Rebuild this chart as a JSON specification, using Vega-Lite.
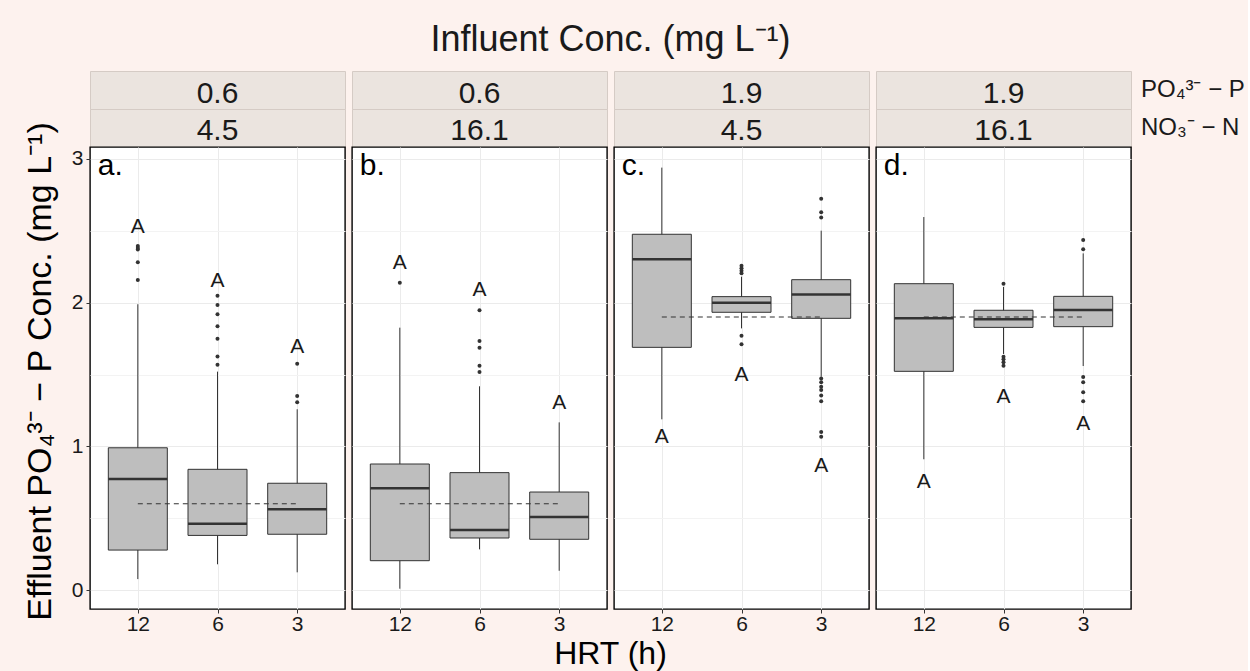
{
  "$schema": "https://vega.github.io/schema/vega-lite/v6.json",
  "background": "#FDF2EE",
  "padding": {"left": 22, "top": 21, "right": 2, "bottom": 2},
  "bounds": "flush",
  "columns": 4,
  "spacing": {"row": 0, "column": 7},
  "datasets": {
    "strips": [
      {"panel": "a", "po4": "0.6", "no3": "4.5"},
      {"panel": "b", "po4": "0.6", "no3": "16.1"},
      {"panel": "c", "po4": "1.9", "no3": "4.5"},
      {"panel": "d", "po4": "1.9", "no3": "16.1"}
    ],
    "boxes": [
      {"panel": "a", "hrt": "12", "lo": 0.076, "q1": 0.278, "med": 0.772, "q3": 0.990, "hi": 1.989, "grp": "A", "grpY": 2.527},
      {"panel": "a", "hrt": "6", "lo": 0.179, "q1": 0.380, "med": 0.462, "q3": 0.840, "hi": 1.520, "grp": "A", "grpY": 2.153},
      {"panel": "a", "hrt": "3", "lo": 0.123, "q1": 0.388, "med": 0.562, "q3": 0.743, "hi": 1.258, "grp": "A", "grpY": 1.694},
      {"panel": "b", "hrt": "12", "lo": 0.009, "q1": 0.204, "med": 0.708, "q3": 0.877, "hi": 1.826, "grp": "A", "grpY": 2.274},
      {"panel": "b", "hrt": "6", "lo": 0.283, "q1": 0.362, "med": 0.418, "q3": 0.817, "hi": 1.418, "grp": "A", "grpY": 2.088},
      {"panel": "b", "hrt": "3", "lo": 0.134, "q1": 0.353, "med": 0.508, "q3": 0.682, "hi": 1.167, "grp": "A", "grpY": 1.299},
      {"panel": "c", "hrt": "12", "lo": 1.188, "q1": 1.689, "med": 2.302, "q3": 2.476, "hi": 2.940, "grp": "A", "grpY": 1.063},
      {"panel": "c", "hrt": "6", "lo": 1.821, "q1": 1.933, "med": 2.000, "q3": 2.042, "hi": 2.181, "grp": "A", "grpY": 1.496},
      {"panel": "c", "hrt": "3", "lo": 1.485, "q1": 1.891, "med": 2.056, "q3": 2.160, "hi": 2.501, "grp": "A", "grpY": 0.863},
      {"panel": "d", "hrt": "12", "lo": 0.910, "q1": 1.522, "med": 1.891, "q3": 2.132, "hi": 2.596, "grp": "A", "grpY": 0.754},
      {"panel": "d", "hrt": "6", "lo": 1.643, "q1": 1.828, "med": 1.884, "q3": 1.947, "hi": 2.110, "grp": "A", "grpY": 1.346},
      {"panel": "d", "hrt": "3", "lo": 1.559, "q1": 1.833, "med": 1.949, "q3": 2.044, "hi": 2.343, "grp": "A", "grpY": 1.155}
    ],
    "outliers": [
      {"panel": "a", "hrt": "12", "value": 2.395},
      {"panel": "a", "hrt": "12", "value": 2.380},
      {"panel": "a", "hrt": "12", "value": 2.370},
      {"panel": "a", "hrt": "12", "value": 2.281},
      {"panel": "a", "hrt": "12", "value": 2.158},
      {"panel": "a", "hrt": "6", "value": 2.048},
      {"panel": "a", "hrt": "6", "value": 1.984},
      {"panel": "a", "hrt": "6", "value": 1.919},
      {"panel": "a", "hrt": "6", "value": 1.835},
      {"panel": "a", "hrt": "6", "value": 1.749},
      {"panel": "a", "hrt": "6", "value": 1.626},
      {"panel": "a", "hrt": "6", "value": 1.568},
      {"panel": "a", "hrt": "3", "value": 1.575},
      {"panel": "a", "hrt": "3", "value": 1.350},
      {"panel": "a", "hrt": "3", "value": 1.306},
      {"panel": "b", "hrt": "12", "value": 2.139},
      {"panel": "b", "hrt": "6", "value": 1.947},
      {"panel": "b", "hrt": "6", "value": 1.733},
      {"panel": "b", "hrt": "6", "value": 1.687},
      {"panel": "b", "hrt": "6", "value": 1.561},
      {"panel": "b", "hrt": "6", "value": 1.517},
      {"panel": "c", "hrt": "6", "value": 2.257},
      {"panel": "c", "hrt": "6", "value": 2.239},
      {"panel": "c", "hrt": "6", "value": 2.222},
      {"panel": "c", "hrt": "6", "value": 2.204},
      {"panel": "c", "hrt": "6", "value": 1.770},
      {"panel": "c", "hrt": "6", "value": 1.710},
      {"panel": "c", "hrt": "3", "value": 2.724},
      {"panel": "c", "hrt": "3", "value": 2.629},
      {"panel": "c", "hrt": "3", "value": 2.592},
      {"panel": "c", "hrt": "3", "value": 1.473},
      {"panel": "c", "hrt": "3", "value": 1.446},
      {"panel": "c", "hrt": "3", "value": 1.415},
      {"panel": "c", "hrt": "3", "value": 1.392},
      {"panel": "c", "hrt": "3", "value": 1.353},
      {"panel": "c", "hrt": "3", "value": 1.313},
      {"panel": "c", "hrt": "3", "value": 1.100},
      {"panel": "c", "hrt": "3", "value": 1.067},
      {"panel": "d", "hrt": "6", "value": 2.132},
      {"panel": "d", "hrt": "6", "value": 1.624},
      {"panel": "d", "hrt": "6", "value": 1.606},
      {"panel": "d", "hrt": "6", "value": 1.585},
      {"panel": "d", "hrt": "6", "value": 1.561},
      {"panel": "d", "hrt": "3", "value": 2.436},
      {"panel": "d", "hrt": "3", "value": 2.371},
      {"panel": "d", "hrt": "3", "value": 1.483},
      {"panel": "d", "hrt": "3", "value": 1.446},
      {"panel": "d", "hrt": "3", "value": 1.376},
      {"panel": "d", "hrt": "3", "value": 1.313}
    ],
    "influent": [
      {"panel": "a", "letter": "a.", "conc": 0.6, "from": "12", "to": "3"},
      {"panel": "b", "letter": "b.", "conc": 0.6, "from": "12", "to": "3"},
      {"panel": "c", "letter": "c.", "conc": 1.9, "from": "12", "to": "3"},
      {"panel": "d", "letter": "d.", "conc": 1.9, "from": "12", "to": "3"}
    ]
  },
  "concat": [
    {
      "width": 255, "height": 38,
      "view": {"fill": "#EBE4DF", "stroke": "#D5CBC5"},
      "data": {"name": "strips"},
      "transform": [{"filter": "datum.panel === 'a'"}],
      "mark": {"type": "text", "fontSize": 30, "baseline": "alphabetic", "dy": 13, "color": "#1a1a1a"},
      "encoding": {"text": {"field": "po4"}}
    },
    {
      "width": 255, "height": 38,
      "view": {"fill": "#EBE4DF", "stroke": "#D5CBC5"},
      "title": {"text": "Influent Conc. (mg L⁻¹)", "fontSize": 36, "anchor": "middle", "frame": "group", "baseline": "alphabetic", "offset": -16, "dx": 131, "color": "#1a1a1a"},
      "data": {"name": "strips"},
      "transform": [{"filter": "datum.panel === 'b'"}],
      "mark": {"type": "text", "fontSize": 30, "baseline": "alphabetic", "dy": 13, "color": "#1a1a1a"},
      "encoding": {"text": {"field": "po4"}}
    },
    {
      "width": 255, "height": 38,
      "view": {"fill": "#EBE4DF", "stroke": "#D5CBC5"},
      "data": {"name": "strips"},
      "transform": [{"filter": "datum.panel === 'c'"}],
      "mark": {"type": "text", "fontSize": 30, "baseline": "alphabetic", "dy": 13, "color": "#1a1a1a"},
      "encoding": {"text": {"field": "po4"}}
    },
    {
      "width": 255, "height": 38,
      "view": {"fill": "#EBE4DF", "stroke": "#D5CBC5"},
      "title": {"text": "PO₄³⁻ − P", "orient": "right", "angle": 0, "anchor": "middle", "align": "right", "baseline": "middle", "offset": 10, "fontSize": 24, "color": "#1a1a1a"},
      "data": {"name": "strips"},
      "transform": [{"filter": "datum.panel === 'd'"}],
      "mark": {"type": "text", "fontSize": 30, "baseline": "alphabetic", "dy": 13, "color": "#1a1a1a"},
      "encoding": {"text": {"field": "po4"}}
    },
    {
      "width": 255, "height": 38,
      "view": {"fill": "#EBE4DF", "stroke": "#D5CBC5"},
      "data": {"name": "strips"},
      "transform": [{"filter": "datum.panel === 'a'"}],
      "mark": {"type": "text", "fontSize": 30, "baseline": "alphabetic", "dy": 12, "color": "#1a1a1a"},
      "encoding": {"text": {"field": "no3"}}
    },
    {
      "width": 255, "height": 38,
      "view": {"fill": "#EBE4DF", "stroke": "#D5CBC5"},
      "data": {"name": "strips"},
      "transform": [{"filter": "datum.panel === 'b'"}],
      "mark": {"type": "text", "fontSize": 30, "baseline": "alphabetic", "dy": 12, "color": "#1a1a1a"},
      "encoding": {"text": {"field": "no3"}}
    },
    {
      "width": 255, "height": 38,
      "view": {"fill": "#EBE4DF", "stroke": "#D5CBC5"},
      "data": {"name": "strips"},
      "transform": [{"filter": "datum.panel === 'c'"}],
      "mark": {"type": "text", "fontSize": 30, "baseline": "alphabetic", "dy": 12, "color": "#1a1a1a"},
      "encoding": {"text": {"field": "no3"}}
    },
    {
      "width": 255, "height": 38,
      "view": {"fill": "#EBE4DF", "stroke": "#D5CBC5"},
      "title": {"text": "NO₃⁻ − N", "orient": "right", "angle": 0, "anchor": "middle", "align": "right", "baseline": "middle", "offset": 10, "fontSize": 24, "color": "#1a1a1a"},
      "data": {"name": "strips"},
      "transform": [{"filter": "datum.panel === 'd'"}],
      "mark": {"type": "text", "fontSize": 30, "baseline": "alphabetic", "dy": 12, "color": "#1a1a1a"},
      "encoding": {"text": {"field": "no3"}}
    },
    {
      "width": 255, "height": 462,
      "view": {"fill": "white", "stroke": "black", "strokeWidth": 1.4},
      "layer": [
        {
          "data": {"name": "boxes"},
          "transform": [{"filter": "datum.panel === 'a'"}],
          "mark": {"type": "rule", "color": "#333333", "strokeWidth": 1},
          "encoding": {
            "x": {"field": "hrt", "type": "ordinal", "scale": {"type": "point", "domain": ["12", "6", "3"], "padding": 0.6},
                  "axis": {"title": null, "labelAngle": 0, "labelFontSize": 21, "labelPadding": 0, "grid": true}},
            "y": {"field": "lo", "type": "quantitative", "scale": {"domain": [-0.1322, 3.0835], "nice": false, "zero": false},
                  "axis": {"title": "Effluent PO₄³⁻ − P Conc. (mg L⁻¹)", "titleFontSize": 34, "titleX": -40, "titleY": 224, "titleBaseline": "alphabetic", "titleAlign": "center", "titleAngle": -90,
                           "values": [0, 0.5, 1, 1.5, 2, 2.5, 3], "labelExpr": "datum.value % 1 === 0 ? format(datum.value, 'd') : ''",
                           "labelFontSize": 21, "labelPadding": 3,
                           "tickOpacity": {"condition": {"test": "datum.value % 1 !== 0", "value": 0}, "value": 1},
                           "gridColor": {"condition": {"test": "datum.value % 1 !== 0", "value": "#F3F3F3"}, "value": "#EBEBEB"}}},
            "y2": {"field": "hi"}
          }
        },
        {
          "data": {"name": "boxes"},
          "transform": [{"filter": "datum.panel === 'a'"}],
          "mark": {"type": "bar", "size": 59, "fill": "#BEBEBE", "stroke": "#333333", "strokeWidth": 1},
          "encoding": {"x": {"field": "hrt", "type": "ordinal"}, "y": {"field": "q1", "type": "quantitative"}, "y2": {"field": "q3"}}
        },
        {
          "data": {"name": "boxes"},
          "transform": [{"filter": "datum.panel === 'a'"}],
          "mark": {"type": "tick", "orient": "horizontal", "size": 59, "thickness": 2.5, "color": "#333333", "opacity": 1},
          "encoding": {"x": {"field": "hrt", "type": "ordinal"}, "y": {"field": "med", "type": "quantitative"}}
        },
        {
          "data": {"name": "outliers"},
          "transform": [{"filter": "datum.panel === 'a'"}],
          "mark": {"type": "circle", "size": 16, "color": "#333333", "opacity": 1},
          "encoding": {"x": {"field": "hrt", "type": "ordinal"}, "y": {"field": "value", "type": "quantitative"}}
        },
        {
          "data": {"name": "influent"},
          "transform": [{"filter": "datum.panel === 'a'"}],
          "mark": {"type": "rule", "color": "#333333", "strokeWidth": 1.1, "strokeDash": [5, 4]},
          "encoding": {"x": {"field": "from", "type": "ordinal"}, "x2": {"field": "to"}, "y": {"field": "conc", "type": "quantitative"}}
        },
        {
          "data": {"name": "boxes"},
          "transform": [{"filter": "datum.panel === 'a'"}],
          "mark": {"type": "text", "fontSize": 21, "color": "#1a1a1a", "baseline": "middle"},
          "encoding": {"x": {"field": "hrt", "type": "ordinal"}, "y": {"field": "grpY", "type": "quantitative"}, "text": {"field": "grp"}}
        },
        {
          "data": {"name": "influent"},
          "transform": [{"filter": "datum.panel === 'a'"}],
          "mark": {"type": "text", "fontSize": 30, "color": "black", "align": "left", "baseline": "alphabetic", "dx": -40, "dy": 28},
          "encoding": {"x": {"datum": "12", "type": "ordinal"}, "y": {"datum": 3.0835, "type": "quantitative"}, "text": {"field": "letter"}}
        }
      ]
    },
    {
      "width": 255, "height": 462,
      "view": {"fill": "white", "stroke": "black", "strokeWidth": 1.4},
      "layer": [
        {
          "data": {"name": "boxes"},
          "transform": [{"filter": "datum.panel === 'b'"}],
          "mark": {"type": "rule", "color": "#333333", "strokeWidth": 1},
          "encoding": {
            "x": {"field": "hrt", "type": "ordinal", "scale": {"type": "point", "domain": ["12", "6", "3"], "padding": 0.6},
                  "axis": {"title": "HRT (h)", "titleFontSize": 32, "titleX": 258, "titleY": 54, "titleBaseline": "alphabetic", "titleAlign": "center",
                           "labelAngle": 0, "labelFontSize": 21, "labelPadding": 0, "grid": true}},
            "y": {"field": "lo", "type": "quantitative", "scale": {"domain": [-0.1322, 3.0835], "nice": false, "zero": false},
                  "axis": {"title": null, "labels": false, "ticks": false, "values": [0, 0.5, 1, 1.5, 2, 2.5, 3],
                           "gridColor": {"condition": {"test": "datum.value % 1 !== 0", "value": "#F3F3F3"}, "value": "#EBEBEB"}}},
            "y2": {"field": "hi"}
          }
        },
        {
          "data": {"name": "boxes"},
          "transform": [{"filter": "datum.panel === 'b'"}],
          "mark": {"type": "bar", "size": 59, "fill": "#BEBEBE", "stroke": "#333333", "strokeWidth": 1},
          "encoding": {"x": {"field": "hrt", "type": "ordinal"}, "y": {"field": "q1", "type": "quantitative"}, "y2": {"field": "q3"}}
        },
        {
          "data": {"name": "boxes"},
          "transform": [{"filter": "datum.panel === 'b'"}],
          "mark": {"type": "tick", "orient": "horizontal", "size": 59, "thickness": 2.5, "color": "#333333", "opacity": 1},
          "encoding": {"x": {"field": "hrt", "type": "ordinal"}, "y": {"field": "med", "type": "quantitative"}}
        },
        {
          "data": {"name": "outliers"},
          "transform": [{"filter": "datum.panel === 'b'"}],
          "mark": {"type": "circle", "size": 16, "color": "#333333", "opacity": 1},
          "encoding": {"x": {"field": "hrt", "type": "ordinal"}, "y": {"field": "value", "type": "quantitative"}}
        },
        {
          "data": {"name": "influent"},
          "transform": [{"filter": "datum.panel === 'b'"}],
          "mark": {"type": "rule", "color": "#333333", "strokeWidth": 1.1, "strokeDash": [5, 4]},
          "encoding": {"x": {"field": "from", "type": "ordinal"}, "x2": {"field": "to"}, "y": {"field": "conc", "type": "quantitative"}}
        },
        {
          "data": {"name": "boxes"},
          "transform": [{"filter": "datum.panel === 'b'"}],
          "mark": {"type": "text", "fontSize": 21, "color": "#1a1a1a", "baseline": "middle"},
          "encoding": {"x": {"field": "hrt", "type": "ordinal"}, "y": {"field": "grpY", "type": "quantitative"}, "text": {"field": "grp"}}
        },
        {
          "data": {"name": "influent"},
          "transform": [{"filter": "datum.panel === 'b'"}],
          "mark": {"type": "text", "fontSize": 30, "color": "black", "align": "left", "baseline": "alphabetic", "dx": -40, "dy": 28},
          "encoding": {"x": {"datum": "12", "type": "ordinal"}, "y": {"datum": 3.0835, "type": "quantitative"}, "text": {"field": "letter"}}
        }
      ]
    },
    {
      "width": 255, "height": 462,
      "view": {"fill": "white", "stroke": "black", "strokeWidth": 1.4},
      "layer": [
        {
          "data": {"name": "boxes"},
          "transform": [{"filter": "datum.panel === 'c'"}],
          "mark": {"type": "rule", "color": "#333333", "strokeWidth": 1},
          "encoding": {
            "x": {"field": "hrt", "type": "ordinal", "scale": {"type": "point", "domain": ["12", "6", "3"], "padding": 0.6},
                  "axis": {"title": null, "labelAngle": 0, "labelFontSize": 21, "labelPadding": 0, "grid": true}},
            "y": {"field": "lo", "type": "quantitative", "scale": {"domain": [-0.1322, 3.0835], "nice": false, "zero": false},
                  "axis": {"title": null, "labels": false, "ticks": false, "values": [0, 0.5, 1, 1.5, 2, 2.5, 3],
                           "gridColor": {"condition": {"test": "datum.value % 1 !== 0", "value": "#F3F3F3"}, "value": "#EBEBEB"}}},
            "y2": {"field": "hi"}
          }
        },
        {
          "data": {"name": "boxes"},
          "transform": [{"filter": "datum.panel === 'c'"}],
          "mark": {"type": "bar", "size": 59, "fill": "#BEBEBE", "stroke": "#333333", "strokeWidth": 1},
          "encoding": {"x": {"field": "hrt", "type": "ordinal"}, "y": {"field": "q1", "type": "quantitative"}, "y2": {"field": "q3"}}
        },
        {
          "data": {"name": "boxes"},
          "transform": [{"filter": "datum.panel === 'c'"}],
          "mark": {"type": "tick", "orient": "horizontal", "size": 59, "thickness": 2.5, "color": "#333333", "opacity": 1},
          "encoding": {"x": {"field": "hrt", "type": "ordinal"}, "y": {"field": "med", "type": "quantitative"}}
        },
        {
          "data": {"name": "outliers"},
          "transform": [{"filter": "datum.panel === 'c'"}],
          "mark": {"type": "circle", "size": 16, "color": "#333333", "opacity": 1},
          "encoding": {"x": {"field": "hrt", "type": "ordinal"}, "y": {"field": "value", "type": "quantitative"}}
        },
        {
          "data": {"name": "influent"},
          "transform": [{"filter": "datum.panel === 'c'"}],
          "mark": {"type": "rule", "color": "#333333", "strokeWidth": 1.1, "strokeDash": [5, 4]},
          "encoding": {"x": {"field": "from", "type": "ordinal"}, "x2": {"field": "to"}, "y": {"field": "conc", "type": "quantitative"}}
        },
        {
          "data": {"name": "boxes"},
          "transform": [{"filter": "datum.panel === 'c'"}],
          "mark": {"type": "text", "fontSize": 21, "color": "#1a1a1a", "baseline": "middle"},
          "encoding": {"x": {"field": "hrt", "type": "ordinal"}, "y": {"field": "grpY", "type": "quantitative"}, "text": {"field": "grp"}}
        },
        {
          "data": {"name": "influent"},
          "transform": [{"filter": "datum.panel === 'c'"}],
          "mark": {"type": "text", "fontSize": 30, "color": "black", "align": "left", "baseline": "alphabetic", "dx": -40, "dy": 28},
          "encoding": {"x": {"datum": "12", "type": "ordinal"}, "y": {"datum": 3.0835, "type": "quantitative"}, "text": {"field": "letter"}}
        }
      ]
    },
    {
      "width": 255, "height": 462,
      "view": {"fill": "white", "stroke": "black", "strokeWidth": 1.4},
      "layer": [
        {
          "data": {"name": "boxes"},
          "transform": [{"filter": "datum.panel === 'd'"}],
          "mark": {"type": "rule", "color": "#333333", "strokeWidth": 1},
          "encoding": {
            "x": {"field": "hrt", "type": "ordinal", "scale": {"type": "point", "domain": ["12", "6", "3"], "padding": 0.6},
                  "axis": {"title": null, "labelAngle": 0, "labelFontSize": 21, "labelPadding": 0, "grid": true}},
            "y": {"field": "lo", "type": "quantitative", "scale": {"domain": [-0.1322, 3.0835], "nice": false, "zero": false},
                  "axis": {"title": null, "labels": false, "ticks": false, "values": [0, 0.5, 1, 1.5, 2, 2.5, 3],
                           "gridColor": {"condition": {"test": "datum.value % 1 !== 0", "value": "#F3F3F3"}, "value": "#EBEBEB"}}},
            "y2": {"field": "hi"}
          }
        },
        {
          "data": {"name": "boxes"},
          "transform": [{"filter": "datum.panel === 'd'"}],
          "mark": {"type": "bar", "size": 59, "fill": "#BEBEBE", "stroke": "#333333", "strokeWidth": 1},
          "encoding": {"x": {"field": "hrt", "type": "ordinal"}, "y": {"field": "q1", "type": "quantitative"}, "y2": {"field": "q3"}}
        },
        {
          "data": {"name": "boxes"},
          "transform": [{"filter": "datum.panel === 'd'"}],
          "mark": {"type": "tick", "orient": "horizontal", "size": 59, "thickness": 2.5, "color": "#333333", "opacity": 1},
          "encoding": {"x": {"field": "hrt", "type": "ordinal"}, "y": {"field": "med", "type": "quantitative"}}
        },
        {
          "data": {"name": "outliers"},
          "transform": [{"filter": "datum.panel === 'd'"}],
          "mark": {"type": "circle", "size": 16, "color": "#333333", "opacity": 1},
          "encoding": {"x": {"field": "hrt", "type": "ordinal"}, "y": {"field": "value", "type": "quantitative"}}
        },
        {
          "data": {"name": "influent"},
          "transform": [{"filter": "datum.panel === 'd'"}],
          "mark": {"type": "rule", "color": "#333333", "strokeWidth": 1.1, "strokeDash": [5, 4]},
          "encoding": {"x": {"field": "from", "type": "ordinal"}, "x2": {"field": "to"}, "y": {"field": "conc", "type": "quantitative"}}
        },
        {
          "data": {"name": "boxes"},
          "transform": [{"filter": "datum.panel === 'd'"}],
          "mark": {"type": "text", "fontSize": 21, "color": "#1a1a1a", "baseline": "middle"},
          "encoding": {"x": {"field": "hrt", "type": "ordinal"}, "y": {"field": "grpY", "type": "quantitative"}, "text": {"field": "grp"}}
        },
        {
          "data": {"name": "influent"},
          "transform": [{"filter": "datum.panel === 'd'"}],
          "mark": {"type": "text", "fontSize": 30, "color": "black", "align": "left", "baseline": "alphabetic", "dx": -40, "dy": 28},
          "encoding": {"x": {"datum": "12", "type": "ordinal"}, "y": {"datum": 3.0835, "type": "quantitative"}, "text": {"field": "letter"}}
        }
      ]
    }
  ],
  "config": {
    "font": "Liberation Sans",
    "title": {"fontWeight": "normal", "font": "Liberation Sans"},
    "text": {"font": "Liberation Sans"},
    "axis": {
      "labelFont": "Liberation Sans",
      "titleFont": "Liberation Sans",
      "titleFontWeight": "normal",
      "titleColor": "#000000",
      "labelColor": "#1a1a1a",
      "domain": false,
      "tickColor": "#333333",
      "tickSize": 4,
      "gridColor": "#EBEBEB",
      "gridWidth": 1
    }
  }
}
